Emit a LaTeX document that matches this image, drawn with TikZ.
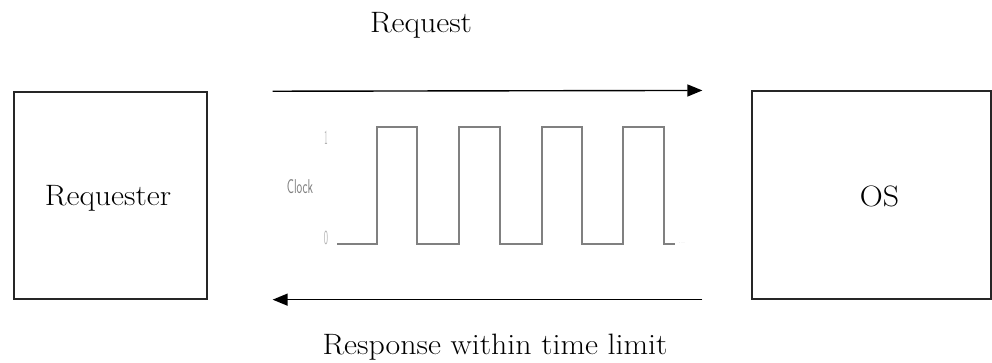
\documentclass[tikz,border=0pt]{standalone}
\usetikzlibrary{arrows.meta}
\begin{document}
\begin{tikzpicture}[x=1pt,y=-1pt,
  party/.style={draw=black!85,line width=1.3pt,inner sep=0pt},
  msg/.style={line width=1.4pt,-{Triangle[length=15pt,width=12pt]}},
  caption/.style={font=\fontsize{29.5}{32}\selectfont,inner sep=0pt,anchor=base,xscale=1.08},
  wave/.style={draw=black!50,line width=1.6pt},
  axislabel/.style={text=black!50,inner sep=0pt,font=\sffamily\fontsize{20}{22}\selectfont}]
  \useasboundingbox (0,0) rectangle (992,362);

  % the two parties
  \node[party,minimum width=193pt,minimum height=207pt] (req) at (110.5,195.5) {};
  \node[caption] (reqtxt) at (108,205) {Requester};
  \node[party,minimum width=239pt,minimum height=208pt] (os) at (871.5,195) {};
  \node[caption] (ostxt) at (879.5,206) {OS};

  % request and response
  \draw[msg,shorten <=65pt,shorten >=49pt] (req.north east) -- (os.north west);
  \draw[msg,shorten <=49pt,shorten >=65pt] (os.south west) -- (req.south east);
  \node[caption] (reqlabel) at (421,32) {Request};
  \node[caption] (resplabel) at (495,354) {Response within time limit};

  % clock signal
  \draw[wave] (337,244) -- (377,244) -- (377,127) -- (417,127) -- (417,244)
    -- (459,244) -- (459,127) -- (500,127) -- (500,244)
    -- (542,244) -- (542,127) -- (582,127) -- (582,244)
    -- (623,244) -- (623,127) -- (664,127) -- (664,244) -- (675,244);
  \node[axislabel,xscale=0.6] (clk) at (300,187) {Clock};
  \node[axislabel,xscale=0.35,text=black!30] (one) at (326,138) {1};
  \node[axislabel,xscale=0.45,text=black!30] (zero) at (326,238) {0};
  \node[text=black!30,inner sep=0pt,font=\fontsize{5}{5}\selectfont] (dots) at (682,243) {...};
\end{tikzpicture}
\end{document}
